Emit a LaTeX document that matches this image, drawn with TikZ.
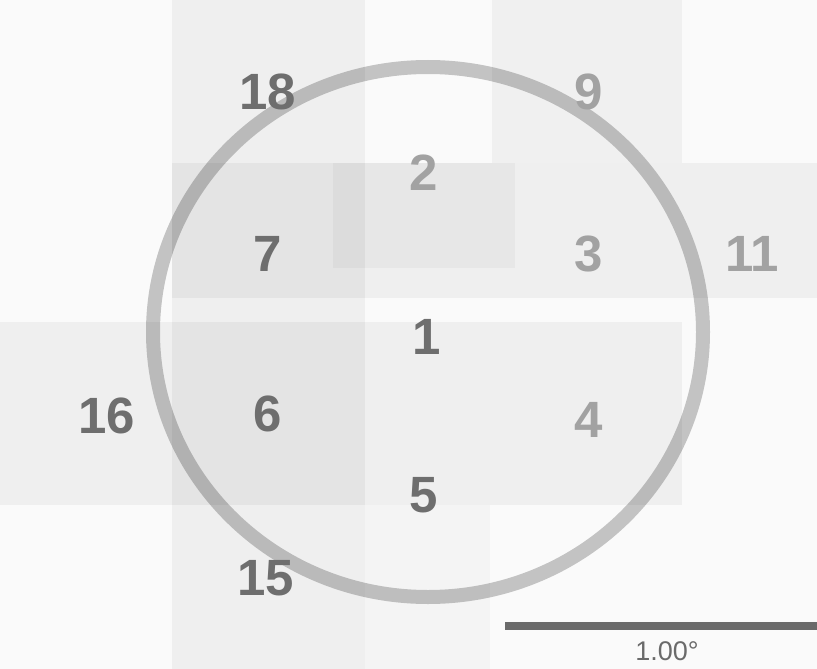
\documentclass[tikz,border=0pt]{standalone}
\usepackage{fontspec}
\setmainfont{Liberation Sans}
\usepackage{tikz}
\usepackage{xcolor}
\definecolor{numdark}{HTML}{6E6E6E}
\definecolor{numfade}{HTML}{A2A2A2}
\definecolor{bargray}{HTML}{6A6A6A}

\begin{document}
\begin{tikzpicture}[x=1pt,y=-1pt,line join=round,
    num/.style={text=numdark,font=\fontsize{51}{53}\selectfont\bfseries,inner sep=0pt},
    numfade/.style={num,text=numfade}]
  \useasboundingbox (0,0) rectangle (817,669);
  % faint overlapping fields behind
  \fill[black!2] (0,0) rectangle (817,669);
  \fill[black,opacity=0.045] (172,0) rectangle (365,669);
  \fill[black,opacity=0.04] (492,0) rectangle (682,163);
  \fill[black,opacity=0.045] (172,163) rectangle (817,298);
  \fill[black,opacity=0.03] (333,163) rectangle (515,268);
  \fill[black,opacity=0.045] (0,322) rectangle (682,505);
  \fill[black,opacity=0.025] (365,505) rectangle (490,669);
  % field outline
  \coordinate (C) at (428,332);
  \draw[black,opacity=0.22,line width=14] (C) ellipse [x radius=275,y radius=265];
  % field numbers
  \node[num]     (n18) at (268,92)  {18};
  \node[numfade] (n9)  at (589,92)  {9};
  \node[numfade] (n2)  at (424,173) {2};
  \node[num]     (n7)  at (268,254) {7};
  \node[numfade] (n3)  at (589,254) {3};
  \node[numfade] (n11) at (752,254) {11};
  \node[num]     (n1)  at (427,337) {1};
  \node[num]     (n16) at (107,416) {16};
  \node[num]     (n6)  at (268,414) {6};
  \node[numfade] (n4)  at (589,420) {4};
  \node[num]     (n5)  at (424,495) {5};
  \node[num]     (n15) at (266,578) {15};
  % scale bar
  \coordinate (bar-l) at (505,626);
  \coordinate (bar-r) at (817,626);
  \draw[bargray,line width=8] (bar-l) -- (bar-r);
  \node[text=bargray,font=\fontsize{27}{29}\selectfont] (scale) at (667,651) {1.00°};
\end{tikzpicture}
\end{document}
